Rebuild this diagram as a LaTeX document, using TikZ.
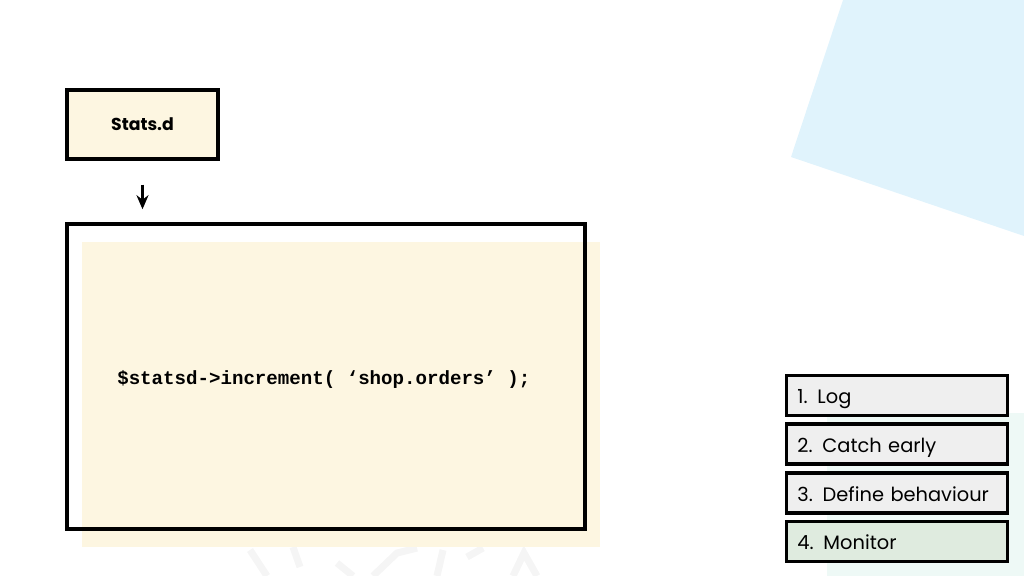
\documentclass[tikz,border=0pt]{standalone}
\usepackage{fontspec}
\setmainfont{Poppins}
\newfontfamily\codefont{Liberation Mono}
\usetikzlibrary{calc,arrows.meta}
\definecolor{slideCream}{HTML}{FDF6E1}
\definecolor{slideSky}{HTML}{E0F3FC}
\definecolor{slideMint}{HTML}{EEF9F6}
\definecolor{slideGrey}{HTML}{EFEFEF}
\definecolor{slideSage}{HTML}{DFEBDF}
\definecolor{slideMark}{HTML}{F5F5F5}

\begin{document}
\begin{tikzpicture}[
    x=0.025cm, y=-0.025cm,
    >={Stealth[length=10pt,width=8.5pt]},
    every node/.style={inner sep=0pt},
    statbox/.style={draw=black, line width=2.4pt, fill=slideCream,
      minimum width=3.775cm, minimum height=1.725cm,
      font=\fontsize{12.3}{14}\selectfont\bfseries},
    codebox/.style={draw=black, line width=2.4pt,
      minimum width=12.95cm, minimum height=7.625cm},
    codetext/.style={font=\codefont\bfseries\fontsize{13.6}{16}\selectfont},
    stepitem/.style={draw=black, line width=2.4pt,
      minimum width=5.525cm, minimum height=1cm,
      text width=4.975cm, align=left, inner xsep=0.275cm,
      text height=12pt, text depth=0pt,
      font=\fontsize{13.8}{16}\selectfont},
  ]
  \useasboundingbox (0,0) rectangle (1024,576);

  % Background shapes
  \fill[slideSky] (843,0) -- (791,157) -- (1024,236) -- (1024,0) -- cycle;
  \fill[slideMint] (827,413) rectangle (1024,576);
  \begin{scope}[slideMark, line width=5pt]
    \draw (250,550) -- (267,576);
    \draw (293,547) -- (300,567);
    \draw (337,563) -- (353,576);
    \draw (373,576) -- (397,553) -- (417,548);
    \draw (443,550) -- (437,576);
    \draw (467,557) -- (483,548);
    \draw (513,576) -- (524,553) -- (537,576);
  \end{scope}

  % Stats.d and the call
  \node[statbox] (stats) at (142.5,124.5) {Stats.d};
  \fill[slideCream] (82,242) rectangle (600,547);
  \node[codebox] (code) at (326,376.5) {};
  \node[codetext, anchor=west] (call) at (117,379)
    {\$statsd->increment( ‘shop.orders’ );};
  \draw[->, line width=1.9pt, shorten <=0.6cm, shorten >=0.325cm]
    (stats.south) -- (stats.south |- code.north);

  % Steps
  \foreach \n/\y/\c/\t in {1/395.5/slideGrey/{1.\enspace Log},
                           2/444/slideGrey/{2.\enspace Catch early},
                           3/493/slideGrey/{3.\enspace Define behaviour},
                           4/541.5/slideSage/{4.\enspace Monitor}}
    \node[stepitem, fill=\c] (step\n) at (897,\y) {\t};
\end{tikzpicture}
\end{document}
